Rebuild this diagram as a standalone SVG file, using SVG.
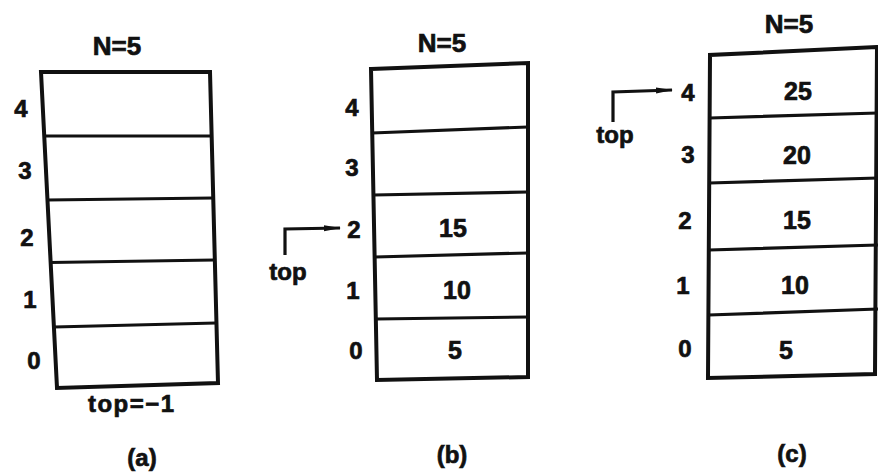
<svg xmlns="http://www.w3.org/2000/svg" width="878" height="475" viewBox="0 0 878 475">
<defs>
<style>
.box{fill:none;stroke:#111;stroke-width:4;stroke-linejoin:miter}
.div{fill:none;stroke:#111;stroke-width:3.2}
.t{font-family:"Liberation Sans","DejaVu Sans",Arial,sans-serif;font-weight:bold;font-size:24px;fill:#111;stroke:#111;stroke-width:0.7;text-anchor:middle}
.v{font-size:25px}
.n{font-size:26px}
.conn{fill:none;stroke:#111;stroke-width:3.2}
</style>
<marker id="ah" markerWidth="17" markerHeight="8" refX="16" refY="4" orient="auto" markerUnits="userSpaceOnUse">
<path d="M0,1 L17,4 L0,7 Z" fill="#111"/>
</marker>
</defs>
<rect width="878" height="475" fill="#fff"/>

<g id="stack-a">
<path class="box" d="M41,72 L210,72 L218,383 L57,388 Z"/>
<path class="div" d="M44,136 L211.5,136 M47,200 L213,198 M50,262.5 L214.5,260 M54,327 L216,323"/>
<text class="t n" x="117" y="55">N=5</text>
<text class="t" x="21" y="117">4</text>
<text class="t" x="25" y="179">3</text>
<text class="t" x="27" y="246">2</text>
<text class="t" x="30" y="308">1</text>
<text class="t" x="34" y="369">0</text>
<text class="t" x="131" y="412" textLength="86" lengthAdjust="spacing">top=−1</text>
<text class="t" x="142" y="466">(a)</text>
</g>

<g id="stack-b">
<path class="box" d="M371,69 L528,63 L528,377 L377,380 Z"/>
<path class="div" d="M372,133 L528,127 M373.5,195 L528,192 M375,257 L528,253 M376,319 L528,317"/>
<text class="t n" x="442" y="52">N=5</text>
<text class="t" x="352" y="116">4</text>
<text class="t" x="352" y="176">3</text>
<text class="t" x="354" y="238">2</text>
<text class="t v" x="453" y="237">15</text>
<text class="t" x="353" y="299">1</text>
<text class="t v" x="457" y="299">10</text>
<text class="t" x="356" y="359">0</text>
<text class="t v" x="455" y="359">5</text>
<text class="t" x="288" y="280">top</text>
<text class="t" x="452" y="463">(b)</text>
</g>

<g id="stack-c">
<path class="box" d="M877,47 L710,55 L708,378 L875,374 Z"/>
<path class="div" d="M710,118 L878,113 M709.5,183 L878,178 M709,250 L878,245 M708.5,315 L878,309"/>
<text class="t n" x="789" y="33">N=5</text>
<text class="t" x="688" y="101">4</text>
<text class="t v" x="798" y="100">25</text>
<text class="t" x="688" y="163">3</text>
<text class="t v" x="797" y="164">20</text>
<text class="t" x="685" y="229">2</text>
<text class="t v" x="797" y="229">15</text>
<text class="t" x="683" y="294">1</text>
<text class="t v" x="795" y="294">10</text>
<text class="t" x="685" y="357">0</text>
<text class="t v" x="786" y="359">5</text>
<text class="t" x="615" y="143">top</text>
<text class="t" x="792" y="462">(c)</text>
</g>

<g id="connectors">
<polyline class="conn" points="285,255 285,229 340,228" marker-end="url(#ah)"/>
<polyline class="conn" points="613,122 613,92 672,90" marker-end="url(#ah)"/>
</g>
</svg>
